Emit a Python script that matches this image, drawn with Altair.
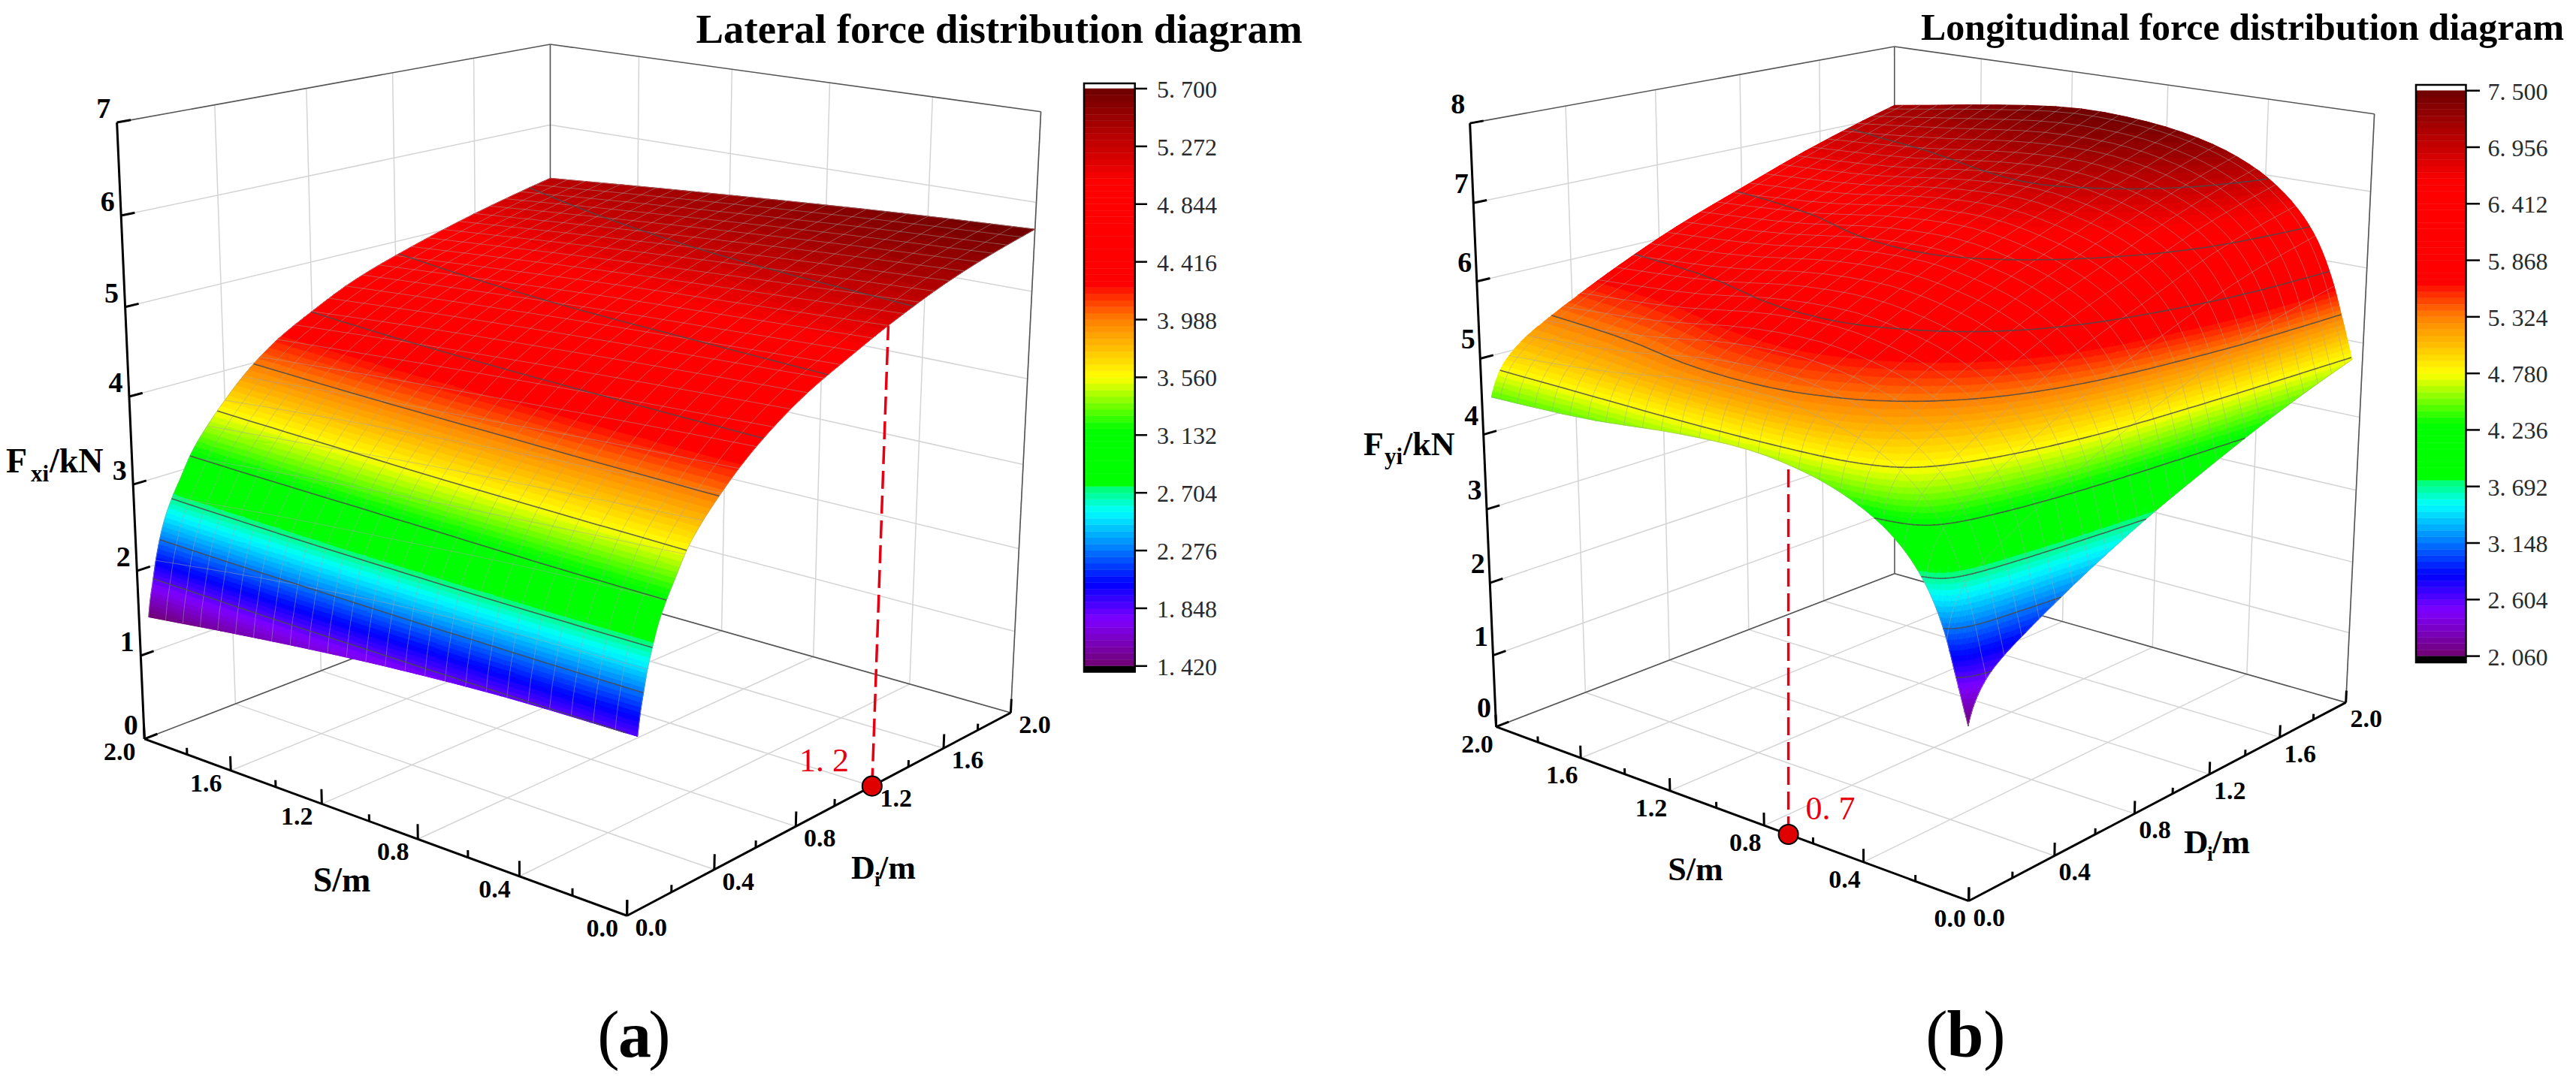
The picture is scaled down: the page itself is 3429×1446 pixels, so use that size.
import numpy as np
import pandas as pd
import altair as alt

alt.data_transformers.disable_max_rows()

# ------------------------------------------------------------------ values
A_S = [0.0, 0.5, 1.0, 1.5, 2.0]
A_D = [0.04, 0.05, 0.064, 0.08, 0.10, 0.125, 0.16, 0.2, 0.25, 0.32, 0.4, 0.5, 0.63, 0.8, 1.0, 1.25, 1.6, 2.0]
A_Z = [
    [1.85, 1.82, 1.73, 1.59, 1.42],
    [2.07, 2.03, 1.94, 1.80, 1.62],
    [2.28, 2.24, 2.15, 2.00, 1.82],
    [2.50, 2.46, 2.37, 2.23, 2.05],
    [2.70, 2.67, 2.58, 2.45, 2.28],
    [2.92, 2.87, 2.78, 2.66, 2.50],
    [3.13, 3.07, 2.97, 2.86, 2.72],
    [3.33, 3.25, 3.15, 3.04, 2.92],
    [3.57, 3.49, 3.40, 3.29, 3.17],
    [3.80, 3.72, 3.64, 3.53, 3.42],
    [4.01, 3.94, 3.86, 3.77, 3.66],
    [4.24, 4.18, 4.10, 4.02, 3.92],
    [4.48, 4.42, 4.35, 4.27, 4.18],
    [4.73, 4.67, 4.60, 4.52, 4.42],
    [4.95, 4.89, 4.83, 4.75, 4.66],
    [5.20, 5.13, 5.06, 4.97, 4.87],
    [5.48, 5.41, 5.32, 5.22, 5.11],
    [5.70, 5.63, 5.54, 5.44, 5.33],
]
B_S = [0.04, 0.06, 0.09, 0.13, 0.2, 0.3, 0.45, 0.65, 0.9, 1.2, 1.6, 2.0]
B_D = [0.04, 0.06, 0.09, 0.13, 0.2, 0.3, 0.45, 0.65, 0.9, 1.2, 1.6, 2.0]
B_Z = [
    [2.06, 2.30, 2.66, 3.12, 3.62, 4.02, 4.34, 4.56, 4.66, 4.62, 4.50, 4.46],
    [2.25, 2.52, 2.92, 3.40, 3.89, 4.29, 4.61, 4.83, 4.93, 4.88, 4.73, 4.65],
    [2.42, 2.71, 3.12, 3.59, 4.08, 4.48, 4.80, 5.02, 5.14, 5.09, 4.92, 4.83],
    [2.57, 2.86, 3.28, 3.73, 4.22, 4.63, 4.95, 5.17, 5.29, 5.25, 5.07, 4.97],
    [2.73, 3.02, 3.44, 3.89, 4.38, 4.79, 5.11, 5.33, 5.45, 5.41, 5.23, 5.14],
    [2.90, 3.19, 3.61, 4.06, 4.55, 4.96, 5.28, 5.50, 5.62, 5.58, 5.40, 5.31],
    [3.13, 3.42, 3.84, 4.29, 4.78, 5.19, 5.51, 5.73, 5.85, 5.81, 5.63, 5.54],
    [3.41, 3.70, 4.12, 4.57, 5.06, 5.47, 5.79, 6.01, 6.13, 6.09, 5.91, 5.82],
    [3.72, 4.01, 4.42, 4.88, 5.37, 5.77, 6.09, 6.31, 6.43, 6.39, 6.22, 6.13],
    [4.04, 4.33, 4.73, 5.18, 5.67, 6.07, 6.39, 6.61, 6.74, 6.70, 6.53, 6.44],
    [4.43, 4.70, 5.10, 5.56, 6.05, 6.46, 6.78, 7.00, 7.11, 7.06, 6.91, 6.83],
    [4.75, 5.00, 5.35, 5.78, 6.30, 6.72, 7.08, 7.33, 7.47, 7.50, 7.35, 7.15],
]
LEG_A = [5.700, 5.272, 4.844, 4.416, 3.988, 3.560, 3.132, 2.704, 2.276, 1.848, 1.420]
LEG_B = [7.500, 6.956, 6.412, 5.868, 5.324, 4.780, 4.236, 3.692, 3.148, 2.604, 2.060]
MAJOR = [0.0, 0.4, 0.8, 1.2, 1.6, 2.0]
MINOR = [0.2, 0.6, 1.0, 1.4, 1.8]
COL_T = [0, 0.08, 0.143, 0.205, 0.268, 0.31, 0.312, 0.41, 0.5, 0.6, 0.65, 0.655, 0.836, 1.0]
COL_C = ["#700070", "#8000ff", "#0000ff", "#0080ff", "#00ffff", "#00ff70", "#00ff00", "#00ff00",
         "#ffff00", "#ff8000", "#ff1800", "#ff0000", "#ff0000", "#6e0000"]

# ------------------------------------------------------------------ camera calibration (axis box corners)
CAM_A = {(2, 0, 0): (192, 982), (0, 0, 0): (835, 1220), (0, 2, 0): (1346, 947), (2, 2, 0): (732, 778),
         (2, 0, 7): (156, 157), (2, 2, 7): (733, 63), (0, 2, 7): (1385, 143), (0, 0, 7): (842, 295)}
CAM_B = {(2, 0, 0): (1991, 966), (0, 0, 0): (2621, 1200), (0, 2, 0): (3123, 934), (2, 2, 0): (2522, 766),
         (2, 0, 8): (1957, 158.5), (2, 2, 8): (2522, 66), (0, 2, 8): (3160, 146), (0, 0, 8): (2628, 295)}


def camera(corners):
    rows = []
    for (s, d, z), (u, v) in corners.items():
        u, v = u / 1000.0, v / 1000.0
        rows.append([s, d, z, 1, 0, 0, 0, 0, -u * s, -u * d, -u * z, -u])
        rows.append([0, 0, 0, 0, s, d, z, 1, -v * s, -v * d, -v * z, -v])
    p = np.linalg.svd(np.array(rows, float))[2][-1].reshape(3, 4)
    if p[2, 3] < 0:
        p = -p

    def proj(s, d, z):
        s, d, z = np.asarray(s, float), np.asarray(d, float), np.asarray(z, float)
        w = p[2, 0] * s + p[2, 1] * d + p[2, 2] * z + p[2, 3]
        x = (p[0, 0] * s + p[0, 1] * d + p[0, 2] * z + p[0, 3]) / w * 1000
        y = (p[1, 0] * s + p[1, 1] * d + p[1, 2] * z + p[1, 3]) / w * 1000
        return x, y, w
    return proj


def hermite(xp, fp, x):
    """cubic sampling of a table along its last axis, only to paint the surface smoothly"""
    xp = np.asarray(xp, float)
    m = np.gradient(fp, xp, axis=-1)
    i = np.clip(np.searchsorted(xp, x, side="right") - 1, 0, len(xp) - 2)
    h = xp[i + 1] - xp[i]
    t = (x - xp[i]) / h
    return ((2 * t**3 - 3 * t**2 + 1) * fp[..., i] + (t**3 - 2 * t**2 + t) * h * m[..., i]
            + (-2 * t**3 + 3 * t**2) * fp[..., i + 1] + (t**3 - t**2) * h * m[..., i + 1])


def surface(Ss, Ds, Z, log_s):
    Z = np.asarray(Z, float)
    su = (lambda a: np.log(a)) if log_s else (lambda a: a)

    def f(s, d):
        s, d = np.atleast_1d(np.asarray(s, float)), np.atleast_1d(np.asarray(d, float))
        r = hermite(su(np.array(Ss)), Z, su(s))          # rows x fine S
        return hermite(np.log(np.array(Ds)), r.T, np.log(d)).T  # fine D x fine S
    return f


def clip_half(pts, level, above):
    out = []
    n = len(pts)
    for i in range(n):
        a, b = pts[i], pts[(i + 1) % n]
        ia = a[2] >= level if above else a[2] <= level
        ib = b[2] >= level if above else b[2] <= level
        if ia:
            out.append(a)
        if ia != ib:
            t = (level - a[2]) / (b[2] - a[2])
            out.append((a[0] + t * (b[0] - a[0]), a[1] + t * (b[1] - a[1]), level))
    return out


NB = 90


def feature(poly, band):
    ring = [[round(p[0], 1), round(p[1], 1)] for p in poly]
    ring.append(ring[0])
    return {"type": "Feature", "properties": {"t": round((band + 0.5) / NB, 4)},
            "geometry": {"type": "Polygon", "coordinates": [ring]}}


def build(proj, f, Sf, Df, vmin, vmax, levels):
    zz = f(Sf, Df)
    SS, DD = np.meshgrid(Sf, Df)
    X, Y, W = proj(SS, DD, zz)
    dz = (vmax - vmin) / NB
    tris = []
    for j in range(len(Df) - 1):
        for i in range(len(Sf) - 1):
            q = [(j, i), (j, i + 1), (j + 1, i + 1), (j + 1, i)]
            for tri in ((q[0], q[1], q[2]), (q[0], q[2], q[3])):
                tris.append((np.mean([abs(W[a]) for a in tri]), tri))
    tris.sort(key=lambda r: -r[0])
    feats, segs = [], []
    for _, tri in tris:
        pts = [(float(X[a]), float(Y[a]), float(zz[a])) for a in tri]
        zs = [p[2] for p in pts]
        lo = int(np.clip(np.floor((min(zs) - vmin) / dz), 0, NB - 1))
        hi = int(np.clip(np.floor((max(zs) - vmin) / dz), 0, NB - 1))
        feats.append(feature(pts, (lo + hi) // 2))   # base coat under the bands
        if lo != hi:
            for b in range(lo, hi + 1):
                poly = pts
                if b > lo:
                    poly = clip_half(poly, vmin + b * dz, True)
                if b < hi and len(poly) >= 3:
                    poly = clip_half(poly, vmin + (b + 1) * dz, False)
                if len(poly) >= 3:
                    feats.append(feature(poly, b))
        for lv in levels:
            if min(zs) < lv < max(zs):
                c = []
                for k in range(3):
                    a, b = pts[k], pts[(k + 1) % 3]
                    if (a[2] - lv) * (b[2] - lv) < 0:
                        t = (lv - a[2]) / (b[2] - a[2])
                        c.append((a[0] + t * (b[0] - a[0]), a[1] + t * (b[1] - a[1])))
                if len(c) == 2:
                    segs.append(dict(x=round(c[0][0], 1), y=round(c[0][1], 1), x2=round(c[1][0], 1), y2=round(c[1][1], 1)))
    return feats, pd.DataFrame(segs)


def mesh(proj, f, s_lines, d_lines, Sf, Df):
    rows = []
    for s in s_lines:
        z = f([s], Df)[:, 0]
        x, y, _ = proj(np.full_like(Df, s), Df, z)
        rows += [dict(x=round(x[i], 1), y=round(y[i], 1), x2=round(x[i + 1], 1), y2=round(y[i + 1], 1)) for i in range(len(Df) - 1)]
    for d in d_lines:
        z = f(Sf, [d])[0]
        x, y, _ = proj(Sf, np.full_like(Sf, d), z)
        rows += [dict(x=round(x[i], 1), y=round(y[i], 1), x2=round(x[i + 1], 1), y2=round(y[i + 1], 1)) for i in range(len(Sf) - 1)]
    return pd.DataFrame(rows)


XS = alt.Scale(domain=[8, 3421])
YS = alt.Scale(domain=[1436, 8])
FILL = alt.Scale(domain=COL_T, range=COL_C, interpolate="rgb")


def seg_layer(df, color, width, **kw):
    return alt.Chart(df).mark_rule(color=color, strokeWidth=width, **kw).encode(
        x=alt.X("x:Q", scale=XS, axis=None), y=alt.Y("y:Q", scale=YS, axis=None), x2="x2:Q", y2="y2:Q")


def text_layer(rows, size, weight="normal", color="black", align="center", baseline="middle", font="Liberation Serif"):
    df = pd.DataFrame(rows, columns=["x", "y", "t"])
    return alt.Chart(df).mark_text(font=font, fontSize=size, fontWeight=weight, color=color, align=align, baseline=baseline).encode(
        x=alt.X("x:Q", scale=XS, axis=None), y=alt.Y("y:Q", scale=YS, axis=None), text="t:N")


def sg(proj, a, b):
    x1, y1, _ = proj(*a)
    x2, y2, _ = proj(*b)
    return dict(x=float(x1), y=float(y1), x2=float(x2), y2=float(y2))


def box(proj, zmax, s_off, d_off, z_off, z_size):
    zs = list(range(0, zmax + 1))
    light = []
    for v in MAJOR:
        light.append(sg(proj, (v, 0, 0), (v, 2, 0)))
        light.append(sg(proj, (0, v, 0), (2, v, 0)))
        if v < 2:
            light.append(sg(proj, (2, v, 0), (2, v, zmax)))
            light.append(sg(proj, (v, 2, 0), (v, 2, zmax)))
    for z in zs[1:-1]:
        light.append(sg(proj, (2, 0, z), (2, 2, z)))
        light.append(sg(proj, (2, 2, z), (0, 2, z)))
    dark = [sg(proj, (2, 0, zmax), (2, 2, zmax)), sg(proj, (2, 2, zmax), (0, 2, zmax)),
            sg(proj, (2, 2, 0), (2, 2, zmax)), sg(proj, (0, 2, 0), (0, 2, zmax)),
            sg(proj, (2, 0, 0), (2, 2, 0)), sg(proj, (2, 2, 0), (0, 2, 0))]
    bold = [sg(proj, (2, 0, 0), (2, 0, zmax)), sg(proj, (2, 0, 0), (0, 0, 0)), sg(proj, (0, 0, 0), (0, 2, 0))]
    for v in MAJOR:
        bold.append(sg(proj, (v, 0, 0), (v, 0, 0.17)))
        bold.append(sg(proj, (0, v, 0), (0, v, 0.17)))
    for v in MINOR:
        bold.append(sg(proj, (v, 0, 0), (v, 0, 0.08)))
        bold.append(sg(proj, (0, v, 0), (0, v, 0.08)))
    for z in zs:
        bold.append(sg(proj, (2, 0, z), (2, 0.055, z)))
    back = [seg_layer(pd.DataFrame(light), "#d4d4d4", 1.5),
            seg_layer(pd.DataFrame(dark), "#555555", 1.6)]
    front = [seg_layer(pd.DataFrame(bold), "black", 3)]
    r_s, r_d, r_z = [], [], []
    for v in MAJOR:
        x, y, _ = proj(v, 0, 0)
        r_s.append((float(x) + s_off[0], float(y) + s_off[1], f"{v:.1f}"))
        x, y, _ = proj(0, v, 0)
        r_d.append((float(x) + d_off[0], float(y) + d_off[1], f"{v:.1f}"))
    for z in zs:
        x, y, _ = proj(2, 0, z)
        r_z.append((float(x) + z_off[0], float(y) + z_off[1], str(z)))
    front += [text_layer(r_s, 34, "bold"), text_layer(r_d, 34, "bold"), text_layer(r_z, z_size, "bold")]
    return back, front


def colorbar(values, x0, x1, tick_x, label_x, top, y_max, y_min, bottom):
    vmax, vmin = values[0], values[-1]
    k = (y_min - y_max) / (vmax - vmin)
    yv = lambda v: y_max + (vmax - v) * k
    dz = (vmax - vmin) / NB
    bands = pd.DataFrame([dict(x=x0, x2=x1, y=yv(vmin + b * dz), y2=yv(vmin + (b + 1) * dz), t=(b + 0.5) / NB) for b in range(NB)])
    enc = dict(x=alt.X("x:Q", scale=XS, axis=None), y=alt.Y("y:Q", scale=YS, axis=None), x2="x2:Q", y2="y2:Q")
    out = [alt.Chart(bands).mark_rect(strokeWidth=0.5).encode(fill=alt.Fill("t:Q", scale=FILL, legend=None),
                                                              stroke=alt.Stroke("t:Q", scale=FILL, legend=None), **enc)]
    cap = pd.DataFrame([dict(x=x0, x2=x1, y=y_min, y2=bottom)])
    out.append(alt.Chart(cap).mark_rect(color="black").encode(**enc))
    frame = pd.DataFrame([dict(x=x0, x2=x1, y=top, y2=bottom)])
    out.append(alt.Chart(frame).mark_rect(filled=False, stroke="black", strokeWidth=2.5).encode(**enc))
    ticks = pd.DataFrame([dict(x=x1, x2=tick_x, y=yv(v), y2=yv(v)) for v in values])
    out.append(seg_layer(ticks, "black", 2.5))
    out.append(text_layer([(label_x, yv(v) + 2, f"{v:.3f}".replace(".", ". ")) for v in values], 32, color="#2a2a2a", align="left"))
    return out


def surface_layers(feats, contours, grid):
    geo = alt.Chart(alt.Data(values=feats)).mark_geoshape(strokeWidth=0.7, filled=True).encode(
        fill=alt.Fill("properties.t:Q", scale=FILL, legend=None),
        stroke=alt.Stroke("properties.t:Q", scale=FILL, legend=None),
    ).project(type="identity", scale=1, translate=[-8, -8])
    return [geo, seg_layer(grid, "#a4a4a4", 1, opacity=0.5), seg_layer(contours, "#4a4a4a", 1.6, opacity=0.85)]


def marker(proj_pt, top_pt, vertical):
    x0, y0 = float(proj_pt[0]), float(proj_pt[1])
    x1, y1 = float(top_pt[0]), float(top_pt[1])
    if vertical:
        x1 = x0
    dash = seg_layer(pd.DataFrame([dict(x=x0, y=y0, x2=x1, y2=y1)]), "#e60012", 3.5, strokeDash=[24, 9])
    dot = alt.Chart(pd.DataFrame([dict(x=x0, y=y0)])).mark_point(
        filled=True, shape="circle", size=680, fill="#e00000", stroke="black", strokeWidth=2, opacity=1).encode(
        x=alt.X("x:Q", scale=XS, axis=None), y=alt.Y("y:Q", scale=YS, axis=None))
    return [dash, dot]


# ------------------------------------------------------------------ panel (a)
pa = camera(CAM_A)
fa = surface(A_S, A_D, A_Z, False)
Sa = np.array(A_S[0:1] + list(np.arange(1, 13) * 2 / 12.0))
Da = np.geomspace(A_D[0], 2.0, 70)
feats_a, cont_a = build(pa, fa, Sa, Da, LEG_A[-1], LEG_A[0], LEG_A[1:-1])
grid_a = mesh(pa, fa, list(np.arange(0, 26) * 0.08), list(np.arange(1, 26) * 0.08), Sa, Da)
back_a, front_a = box(pa, 7, (-33, 18), (32, 17), (-18, -17), 38)
za = float(fa([0.0], [1.2])[0, 0])
mk_a = marker(pa(0, 1.2, 0), pa(0, 1.2, za), False)

# ------------------------------------------------------------------ panel (b)
pb = camera(CAM_B)
fb = surface(B_S, B_D, B_Z, True)
Sb = np.geomspace(0.04, 2.0, 44)
Db = np.geomspace(0.04, 2.0, 44)
feats_b, cont_b = build(pb, fb, Sb, Db, LEG_B[-1], LEG_B[0], LEG_B[1:-1])
grid_b = mesh(pb, fb, list(0.04 + np.arange(0, 25) * 0.08), list(0.04 + np.arange(0, 25) * 0.08), Sb, Db)
back_b, front_b = box(pb, 8, (-25, 24), (27, 23), (-16, -24), 38)
zb = float(fb([0.7], [0.04])[0, 0])
mk_b = marker(pb(0.7, 0, 0), pb(0.7, 0.04, zb), True)

# ------------------------------------------------------------------ free texts
texts = [
    text_layer([(926.5, 57, "Lateral force distribution diagram")], 54.8, "bold", align="left", baseline="alphabetic"),
    text_layer([(2557, 53, "Longitudinal force distribution diagram")], 50, "bold", align="left", baseline="alphabetic"),
    text_layer([(8, 629, "F"), (66, 629, "/kN")], 46, "bold", align="left", baseline="alphabetic"),
    text_layer([(41, 641, "xi")], 31, "bold", align="left", baseline="alphabetic"),
    text_layer([(1815, 606, "F"), (1868, 606, "/kN")], 44, "bold", align="left", baseline="alphabetic"),
    text_layer([(1843, 618, "yi")], 31, "bold", align="left", baseline="alphabetic"),
    text_layer([(455, 1173, "S/m")], 46, "bold"),
    text_layer([(2257, 1159, "S/m")], 44, "bold"),
    text_layer([(1133, 1170, "D"), (1170, 1170, "/m")], 44, "bold", align="left", baseline="alphabetic"),
    text_layer([(1164, 1180, "i")], 28, "bold", align="left", baseline="alphabetic"),
    text_layer([(2907, 1136, "D"), (2945, 1136, "/m")], 45, "bold", align="left", baseline="alphabetic"),
    text_layer([(2938, 1146, "i")], 28, "bold", align="left", baseline="alphabetic"),
    text_layer([(1064, 1027, "1. 2"), (2403.6, 1091, "0. 7")], 44, color="#e60012", align="left", baseline="alphabetic"),
    text_layer([(810, 1407, "("), (878, 1407, ")"), (2578, 1407, "("), (2655, 1407, ")")], 88, baseline="alphabetic"),
    text_layer([(845, 1407, "a"), (2616, 1407, "b")], 88, "bold", baseline="alphabetic"),
]

layers = []
layers += back_a + back_b
layers += surface_layers(feats_a, cont_a, grid_a)
layers += surface_layers(feats_b, cont_b, grid_b)
layers += front_a + front_b + mk_a + mk_b
layers += colorbar(LEG_A, 1443, 1510.7, 1527, 1540, 111, 118, 886.8, 894.5)
layers += colorbar(LEG_B, 3216, 3282.5, 3301, 3311.6, 113, 120.7, 873.6, 882)
layers += texts

chart = alt.layer(*layers).properties(
    width=3413, height=1428, padding=0,
    autosize=alt.AutoSizeParams(type="none"),
    background="white",
).configure_view(stroke=None)

chart.save("out.html", embed_options={"renderer": "svg", "actions": False})
